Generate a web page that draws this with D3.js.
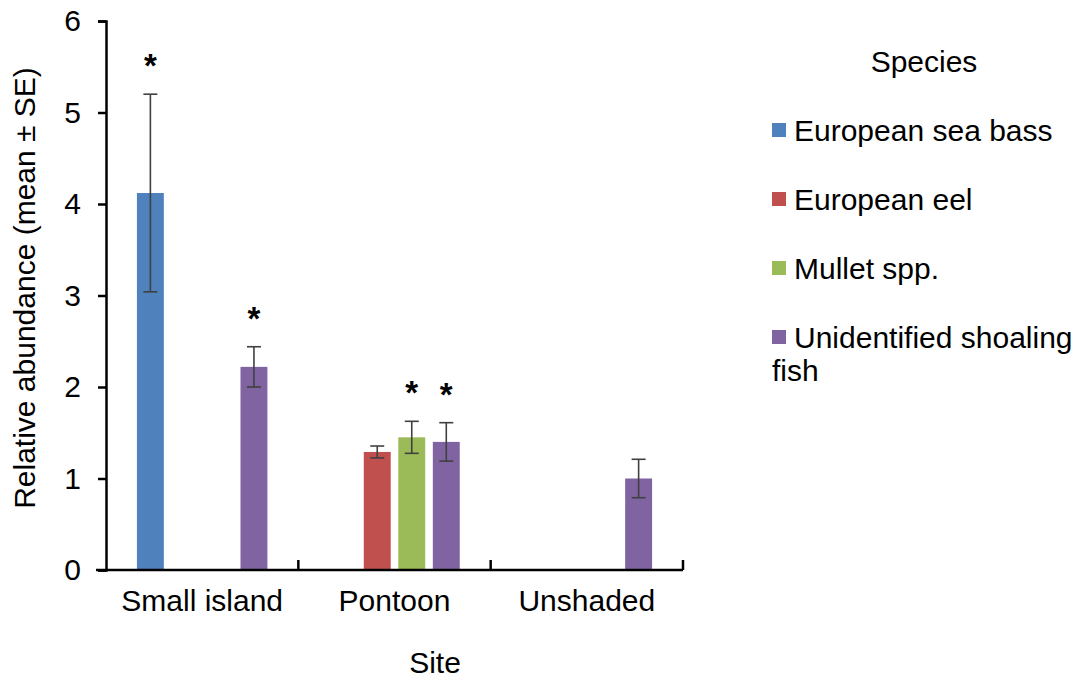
<!DOCTYPE html>
<html lang="en">
    <head>
        <title></title>
        <meta charset="UTF-8">
        <script src="https://d3js.org/d3.v7.min.js"></script>
        <style>
            body { margin: 0; background: #fff; }
            text { font-family: "Liberation Sans", Arial, sans-serif; fill: #000; }
        </style>
    </head>
    <body>
        <script>
            // data
            var sites = ["Small island", "Pontoon", "Unshaded"];
            var species = ["European sea bass", "European eel", "Mullet spp.", "Unidentified shoaling fish"];
            var colours = ["#4f81bd", "#c0504d", "#9bbb59", "#8064a2"];

            // mean per site, null = not recorded
            var seaBass  = [4.12, null, null];
            var eel      = [null, 1.29, null];
            var mullet   = [null, 1.45, null];
            var shoaling = [2.22, 1.40, 1.00];

            // standard errors
            var seaBassSE  = [1.08, null, null];
            var eelSE      = [null, 0.065, null];
            var mulletSE   = [null, 0.175, null];
            var shoalingSE = [0.22, 0.21, 0.21];

            // significance stars
            var seaBassSig  = [true, false, false];
            var eelSig      = [false, false, false];
            var mulletSig   = [false, true, false];
            var shoalingSig = [true, true, false];

            var yTicks = [0, 1, 2, 3, 4, 5, 6];

            var means = [seaBass, eel, mullet, shoaling];
            var ses = [seaBassSE, eelSE, mulletSE, shoalingSE];
            var sigs = [seaBassSig, eelSig, mulletSig, shoalingSig];

            var width = 1085, height = 679;
            var svg = d3.select("body").append("svg")
                    .attr("width", width)
                    .attr("height", height);

            // flatten into rows
            var rows = [];
            species.forEach(function(sp, i){
                sites.forEach(function(site, j){
                    if (means[i][j] != null) {
                        rows.push({site: site, species: sp, i: i, mean: means[i][j], se: ses[i][j], sig: sigs[i][j]});
                    }
                });
            });

            var x0 = d3.scaleBand().domain(sites).range([106, 683]).padding(0);
            var bw = x0.bandwidth();
            var slot = bw * 0.1795;
            var x1 = d3.scaleBand().domain(species)
                    .range([bw / 2 - 2 * slot, bw / 2 + 2 * slot])
                    .paddingInner(0.22).paddingOuter(0.11);
            var y = d3.scaleLinear().domain([0, 6]).range([570, 21]);

            var cx = function(d){ return x0(d.site) + x1(d.species) + x1.bandwidth() / 2; };

            // bars
            svg.append("g").selectAll("rect")
                .data(rows)
                .enter().append("rect")
                .attr("x", function(d){ return x0(d.site) + x1(d.species); })
                .attr("y", function(d){ return y(d.mean); })
                .attr("width", x1.bandwidth())
                .attr("height", function(d){ return y(0) - y(d.mean); })
                .attr("fill", function(d){ return colours[d.i]; });

            // error bars
            var eb = svg.append("g").attr("stroke", "#404040").attr("stroke-width", 1.6);
            rows.forEach(function(d){
                var c = cx(d), t = y(d.mean + d.se), b = y(d.mean - d.se);
                eb.append("line").attr("x1", c).attr("x2", c).attr("y1", t).attr("y2", b);
                eb.append("line").attr("x1", c - 7).attr("x2", c + 7).attr("y1", t).attr("y2", t);
                eb.append("line").attr("x1", c - 7).attr("x2", c + 7).attr("y1", b).attr("y2", b);
            });

            // stars
            svg.append("g").selectAll("text")
                .data(rows.filter(function(d){ return d.sig; }))
                .enter().append("text")
                .attr("x", cx)
                .attr("y", function(d){ return y(d.mean + d.se) - 36 + 19; })
                .attr("text-anchor", "middle")
                .style("font-size", "33px")
                .style("font-weight", "bold")
                .text("*");

            // y axis
            var yAxis = svg.append("g")
                .attr("transform", "translate(106,0)")
                .call(d3.axisLeft(y).tickValues(yTicks).tickSize(8).tickPadding(17).tickFormat(d3.format("d")));
            yAxis.selectAll("text").style("font-size", "30px");

            // x axis
            var xAxis = svg.append("g")
                .attr("transform", "translate(0,570)")
                .call(d3.axisBottom(x0).tickSize(0).tickPadding(20));
            xAxis.selectAll("text").style("font-size", "30px");
            xAxis.select(".domain").attr("d", "M96,0H683");
            xAxis.selectAll(".bound")
                .data(sites.slice(1).concat(["end"]))
                .enter().append("line")
                .attr("class", "bound")
                .attr("x1", function(d, i){ return x0(sites[0]) + (i + 1) * x0.step(); })
                .attr("x2", function(d, i){ return x0(sites[0]) + (i + 1) * x0.step(); })
                .attr("y1", 0).attr("y2", -10)
                .attr("stroke", "#000");

            svg.selectAll(".domain, .tick line, .bound").attr("stroke", "#000").attr("stroke-width", 2.5);

            // axis titles
            svg.append("text")
                .attr("x", 435).attr("y", 673)
                .attr("text-anchor", "middle")
                .style("font-size", "30px")
                .text("Site");

            svg.append("text")
                .attr("transform", "translate(35,288) rotate(-90)")
                .attr("text-anchor", "middle")
                .style("font-size", "30px")
                .text("Relative abundance (mean \u00b1 SE)");

            // legend
            svg.append("text")
                .attr("x", 924).attr("y", 72)
                .attr("text-anchor", "middle")
                .style("font-size", "30px")
                .text("Species");

            var legend = svg.append("g").selectAll("g")
                .data(species)
                .enter().append("g")
                .attr("transform", function(d, i){ return "translate(772," + (130 + i * 69) + ")"; });

            legend.append("rect")
                .attr("x", 0).attr("y", -7)
                .attr("width", 14).attr("height", 14)
                .attr("fill", function(d, i){ return colours[i]; });

            legend.append("text")
                .attr("x", 22).attr("y", 11)
                .style("font-size", "30px")
                .each(function(d){
                    var words = d === "Unidentified shoaling fish" ? ["Unidentified shoaling", "fish"] : [d];
                    var t = d3.select(this);
                    words.forEach(function(w, k){
                        t.append("tspan").attr("x", k ? 0 : 22).attr("dy", k ? 33 : 0).text(w);
                    });
                });
        </script>
    </body>
</html>
